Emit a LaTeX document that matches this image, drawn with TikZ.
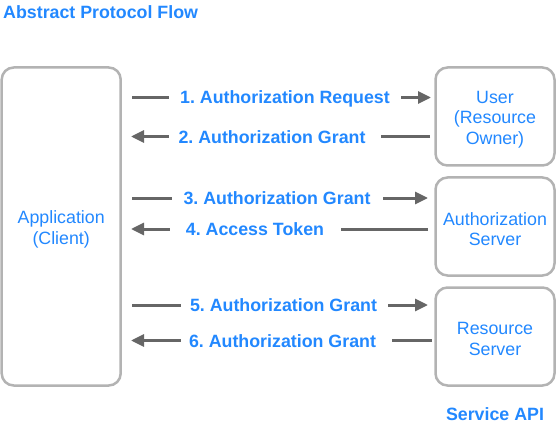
\documentclass[tikz,border=0pt]{standalone}
\usepackage{fontspec}
\setmainfont{Liberation Sans}
\usetikzlibrary{arrows.meta}
\definecolor{txtblue}{RGB}{34,136,255}
\definecolor{boxgray}{RGB}{179,179,179}
\definecolor{arrgray}{RGB}{102,102,102}
\frenchspacing
\begin{document}
\begin{tikzpicture}[x=1pt,y=-1pt,
  box/.style={draw=boxgray,line width=2.5pt,rounded corners=12pt,fill=white,inner sep=0pt},
  boxtxt/.style={text=txtblue,align=center,font=\fontsize{17.8}{20.6}\selectfont,inner sep=0pt},
  flow/.style={draw=arrgray,line width=3pt},
  flowr/.style={flow,-{Triangle[length=13pt,width=12pt]}},
  lab/.style={fill=white,text=txtblue,font=\fontsize{17.8}{20}\selectfont\bfseries,
    inner ysep=0pt,inner xsep=0pt,text height=13pt,text depth=0pt},
  ttl/.style={text=txtblue,font=\fontsize{17.8}{20}\selectfont\bfseries,inner sep=0pt}]
\useasboundingbox (0,0) rectangle (557,425);

\node[ttl,anchor=base west] (title) at (3,18.5) {Abstract Protocol Flow};
\node[ttl,anchor=base] (api) at (495,420) {Service API};

\node[box,minimum width=119pt,minimum height=318pt] (client) at (61.2,226.5) {};
\node[box,minimum width=119pt,minimum height=98pt] (user) at (495,116.5) {};
\node[box,minimum width=119pt,minimum height=98pt] (auth) at (495,226.5) {};
\node[box,minimum width=119pt,minimum height=98pt] (res) at (495,336.5) {};

\node[boxtxt] (clientt) at ([yshift=-3pt]client.center) {Application\\(Client)};
\node[boxtxt] (usert) at ([yshift=-3pt]user.center) {User\\(Resource\\Owner)};
\node[boxtxt] (autht) at ([yshift=-2.5pt]auth.center) {Authorization\\Server};
\node[boxtxt] (rest) at ([yshift=-2.5pt]res.center) {Resource\\Server};

% connector end points
\coordinate (a1) at (132,97.5);  \coordinate (b1) at (431,97.5);
\coordinate (a2) at (131,136.5); \coordinate (b2) at (430,136.5);
\coordinate (a3) at (132,198);   \coordinate (b3) at (428,198);
\coordinate (a4) at (131,229);   \coordinate (b4) at (428,229);
\coordinate (a5) at (132,305);   \coordinate (b5) at (428,305);
\coordinate (a6) at (131,340.5); \coordinate (b6) at (432,340.5);

\draw[flowr] (a1) -- (b1);
\node[lab,minimum width=232pt] (l1) at (285,97.5) {1. Authorization Request};
\draw[flowr] (b2) -- (a2);
\node[lab,minimum width=212pt] (l2) at (275,136.5) {\hspace*{-3pt}2. Authorization Grant\hspace*{3pt}};
\draw[flowr] (a3) -- (b3);
\node[lab,minimum width=211pt] (l3) at (277,198) {3. Authorization Grant};
\draw[flowr] (b4) -- (a4);
\node[lab,minimum width=171pt] (l4) at (255,229) {4. Access Token};
\draw[flowr] (a5) -- (b5);
\node[lab,minimum width=207pt] (l5) at (284.5,305) {\hspace*{-1pt}5. Authorization Grant\hspace*{1pt}};
\draw[flowr] (b6) -- (a6);
\node[lab,minimum width=211pt] (l6) at (286.5,340.5) {\hspace*{-4pt}6. Authorization Grant\hspace*{4pt}};
\end{tikzpicture}
\end{document}
